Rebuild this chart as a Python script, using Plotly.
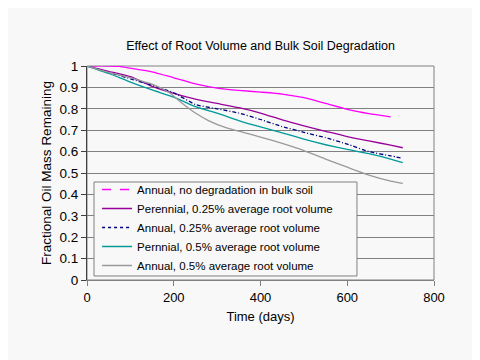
import plotly.graph_objects as go

# Data
days_a0 = [0, 50, 75, 100, 150, 200, 250, 300, 350, 400, 450, 500, 550, 600, 650, 700]
annual_no_deg = [1.0, 1.0, 0.998, 0.99, 0.973, 0.945, 0.917, 0.897, 0.886, 0.878, 0.869, 0.852, 0.825, 0.797, 0.777, 0.762]

days = [0, 50, 100, 150, 200, 250, 300, 350, 400, 450, 500, 550, 600, 650, 700, 728]
perennial_025 = [1.0, 0.975, 0.95, 0.905, 0.872, 0.845, 0.825, 0.805, 0.78, 0.748, 0.72, 0.695, 0.67, 0.65, 0.63, 0.618]
annual_025 = [1.0, 0.97, 0.94, 0.91, 0.875, 0.82, 0.80, 0.78, 0.75, 0.717, 0.69, 0.665, 0.635, 0.60, 0.58, 0.569]
perennial_05 = [1.0, 0.965, 0.925, 0.888, 0.855, 0.81, 0.78, 0.745, 0.715, 0.688, 0.658, 0.632, 0.61, 0.59, 0.565, 0.548]

days_g = [0, 50, 100, 150, 190, 220, 250, 280, 320, 360, 400, 450, 500, 550, 600, 650, 700, 728]
annual_05 = [1.0, 0.97, 0.945, 0.915, 0.875, 0.825, 0.78, 0.745, 0.712, 0.69, 0.668, 0.638, 0.605, 0.565, 0.527, 0.49, 0.462, 0.452]

y_tick_vals = [0, 0.1, 0.2, 0.3, 0.4, 0.5, 0.6, 0.7, 0.8, 0.9, 1.0]
y_tick_text = ["0", "0.1", "0.2", "0.3", "0.4", "0.5", "0.6", "0.7", "0.8", "0.9", "1"]
x_tick_vals = [0, 200, 400, 600, 800]

names = [
    "Annual, no degradation in bulk soil",
    "Perennial, 0.25% average root volume",
    "Annual, 0.25% average root volume",
    "Pernnial, 0.5% average root volume",
    "Annual, 0.5% average root volume",
]
colors = ["#FF00FF", "#990099", "#000080", "#009999", "#999999"]
series = [(days_a0, annual_no_deg), (days, perennial_025), (days, annual_025),
          (days, perennial_05), (days_g, annual_05)]
plot_dash = ["solid", "solid", "4px,2px,1px,2px", "solid", "solid"]
legend_dash = ["dash", "solid", "dot", "solid", "solid"]

FONT = "Arial, Liberation Sans, sans-serif"
fig = go.Figure()
for (x, y), c, d in zip(series, colors, plot_dash):
    fig.add_trace(go.Scatter(x=x, y=y, mode="lines", line=dict(color=c, width=1.3, dash=d, shape="spline", smoothing=0.5),
                             showlegend=False, hoverinfo="skip"))
for n, c, d in zip(names, colors, legend_dash):
    fig.add_trace(go.Scatter(x=[None], y=[None], mode="lines", name=n, line=dict(color=c, width=1.5, dash=d)))

fig.update_layout(
    width=472, height=352,
    margin=dict(l=79, r=46, t=58, b=80),
    paper_bgcolor="#f8f8f8", plot_bgcolor="#f8f8f8",
    font=dict(family=FONT, size=13, color="#000000"),
    title=dict(text="Effect of Root Volume and Bulk Soil Degradation", x=0.5, xref="paper",
               y=1 - 38 / 352, yanchor="middle", yref="container", font=dict(size=12.5, family=FONT, color="#000")),
    legend=dict(x=0.029, y=0.0, xanchor="left", yanchor="bottom", bgcolor="rgba(0,0,0,0)",
                borderwidth=0, font=dict(size=11.5, family=FONT),
                tracegroupgap=0, itemwidth=30),
    xaxis=dict(range=[0, 800], tickvals=x_tick_vals, showgrid=False, zeroline=False,
               showline=True, linecolor="#808080", linewidth=1, ticks="outside", ticklen=5, tickcolor="#808080",
               title=dict(text="Time (days)", standoff=8, font=dict(size=13)), tickfont=dict(size=13)),
    yaxis=dict(range=[0, 1], tickvals=y_tick_vals, ticktext=y_tick_text, showgrid=True, gridcolor="#808080",
               gridwidth=1, zeroline=False, automargin=False,
               showline=True, linecolor="#404040", linewidth=1, ticks="outside", ticklen=5, tickcolor="#404040",
               title=dict(text="Fractional Oil Mass Remaining", standoff=4, font=dict(size=13.5)),
               tickfont=dict(size=13.5)),
)
fig.add_shape(type="rect", xref="paper", yref="paper", x0=0, y0=0, x1=1, y1=1,
              line=dict(color="#808080", width=1), layer="below")
# legend frame
fig.add_shape(type="rect", xref="paper", yref="paper", x0=0.0202, y0=0.0187, x1=0.778, y1=0.458,
              line=dict(color="#808080", width=1), fillcolor="#f8f8f8", layer="above")
fig.write_html("out.html")
